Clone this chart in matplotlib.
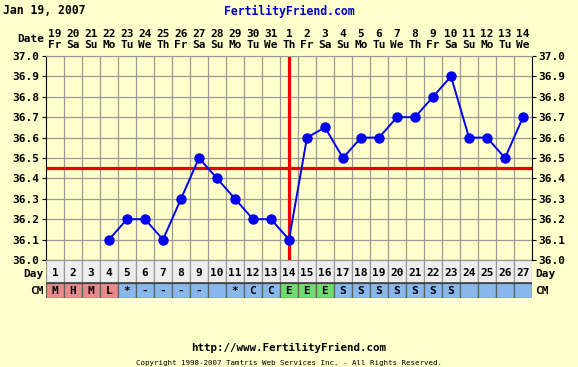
import numpy as np
import matplotlib
matplotlib.use("Agg")
import matplotlib.pyplot as plt

# chart data
chart_date = "Jan 19, 2007"
cycle_days = list(range(1, 28))
date_nums = [19, 20, 21, 22, 23, 24, 25, 26, 27, 28, 29, 30, 31,
             1, 2, 3, 4, 5, 6, 7, 8, 9, 10, 11, 12, 13, 14]
weekdays = ["Fr", "Sa", "Su", "Mo", "Tu", "We", "Th", "Fr", "Sa", "Su", "Mo", "Tu", "We",
            "Th", "Fr", "Sa", "Su", "Mo", "Tu", "We", "Th", "Fr", "Sa", "Su", "Mo", "Tu", "We"]
temps = [np.nan, np.nan, np.nan, 36.1, 36.2, 36.2, 36.1, 36.3, 36.5, 36.4, 36.3, 36.2, 36.2,
         36.1, 36.6, 36.65, 36.5, 36.6, 36.6, 36.7, 36.7, 36.8, 36.9, 36.6, 36.6, 36.5, 36.7]
cm = ["M", "H", "M", "L", "*", "-", "-", "-", "-", "", "*", "C", "C",
      "E", "E", "E", "S", "S", "S", "S", "S", "S", "S", "", "", "", ""]
coverline = 36.45
ovulation_day = 14

BG = "#FFFFCC"
W, H = 578, 367
FONT = "DejaVu Sans Mono"
FS = 8


def box(x0, y0, x1, y1):
    return [x0 / W, 1 - y1 / H, (x1 - x0) / W, (y1 - y0) / H]


fig = plt.figure(figsize=(W / 100, H / 100), dpi=100)
fig.patch.set_facecolor(BG)

# main temperature chart
ax = fig.add_axes(box(46, 56, 532, 260))
ax.set_facecolor(BG)
ax.set_xlim(0.5, 27.5)
ax.set_ylim(36.0, 37.0)

yt = np.round(np.arange(36.0, 37.01, 0.1), 1)
ax.set_yticks(yt)
ax.set_yticklabels([f"{v:.1f}" for v in yt], fontfamily=FONT, fontweight="bold", fontsize=FS)
ax.tick_params(axis="y", left=True, right=True, labelleft=True, labelright=True,
               length=3, width=0.8, pad=1.5)

ax.set_xticks(cycle_days)
ax.set_xticklabels([f"{d}\n{w}" for d, w in zip(date_nums, weekdays)],
                   fontfamily=FONT, fontweight="bold", fontsize=FS, linespacing=1.2)
ax.xaxis.tick_top()
ax.tick_params(axis="x", length=0, pad=4)
ax.set_xticks(np.arange(1.5, 27, 1), minor=True)
ax.tick_params(axis="x", which="minor", length=0)

ax.grid(which="minor", axis="x", color="#999999", lw=0.9)
ax.grid(which="major", axis="y", color="#999999", lw=0.9)
ax.grid(which="major", axis="x", visible=False)
ax.set_axisbelow(True)
ax.spines["top"].set_color("#999999")
for s in ("left", "right", "bottom"):
    ax.spines[s].set_color("black")

ax.axhline(coverline, color="#EE0000", lw=2.3, zorder=2)
ax.axvline(ovulation_day, color="#EE0000", lw=2.3, zorder=2)
ax.plot(cycle_days, temps, "-o", color="#0000F0", lw=1.4, ms=6.5, zorder=3)

# day / cervical mucus rows
tab = fig.add_axes(box(46, 260, 532, 298))
tab.set_xlim(0.5, 27.5)
tab.set_ylim(38, 0)
tab.axis("off")
tab.bar(cycle_days, 23, bottom=0, width=1, color="#EEEEEE", edgecolor="#999999", lw=0.9)
cm_colors = []
for c in cm:
    if c in ("M", "H", "L"):
        cm_colors.append("#E88A8A")
    elif c == "E":
        cm_colors.append("#6EDC6E")
    else:
        cm_colors.append("#88B8EC")
tab.bar(cycle_days, 15, bottom=23, width=1, color=cm_colors, edgecolor="#606060", lw=0.9)
tab.plot([0.5, 27.5], [23, 23], color="#404040", lw=1.2)
for d, c in zip(cycle_days, cm):
    tab.text(d, 13, str(d), ha="center", va="center", fontfamily=FONT,
             fontweight="bold", fontsize=FS)
    tab.text(d, 31, c, ha="center", va="center", fontfamily=FONT,
             fontweight="bold", fontsize=FS)

txt = dict(fontfamily=FONT, fontweight="bold", fontsize=FS)
fig.text(44 / W, 1 - 39 / H, "Date", ha="right", va="center", **txt)
fig.text(44 / W, 1 - 274 / H, "Day", ha="right", va="center", **txt)
fig.text(44 / W, 1 - 291 / H, "CM", ha="right", va="center", **txt)
fig.text(535 / W, 1 - 274 / H, "Day", ha="left", va="center", **txt)
fig.text(535 / W, 1 - 291 / H, "CM", ha="left", va="center", **txt)

fig.text(3 / W, 1 - 11 / H, chart_date, ha="left", va="center",
         fontfamily=FONT, fontweight="bold", fontsize=8.3)
fig.text(289 / W, 1 - 11 / H, "FertilityFriend.com", ha="center", va="center",
         color="#0000CC", fontfamily=FONT, fontweight="bold", fontsize=8.3)
fig.text(289 / W, 1 - 348 / H, "http://www.FertilityFriend.com", ha="center",
         va="center", fontfamily=FONT, fontweight="bold", fontsize=7.8)
fig.text(289 / W, 1 - 363 / H,
         "Copyright 1998-2007 Tamtris Web Services Inc. - All Rights Reserved.",
         ha="center", va="center", fontfamily=FONT, fontsize=5.4)

fig.savefig("out.png", dpi=100, facecolor=BG)
